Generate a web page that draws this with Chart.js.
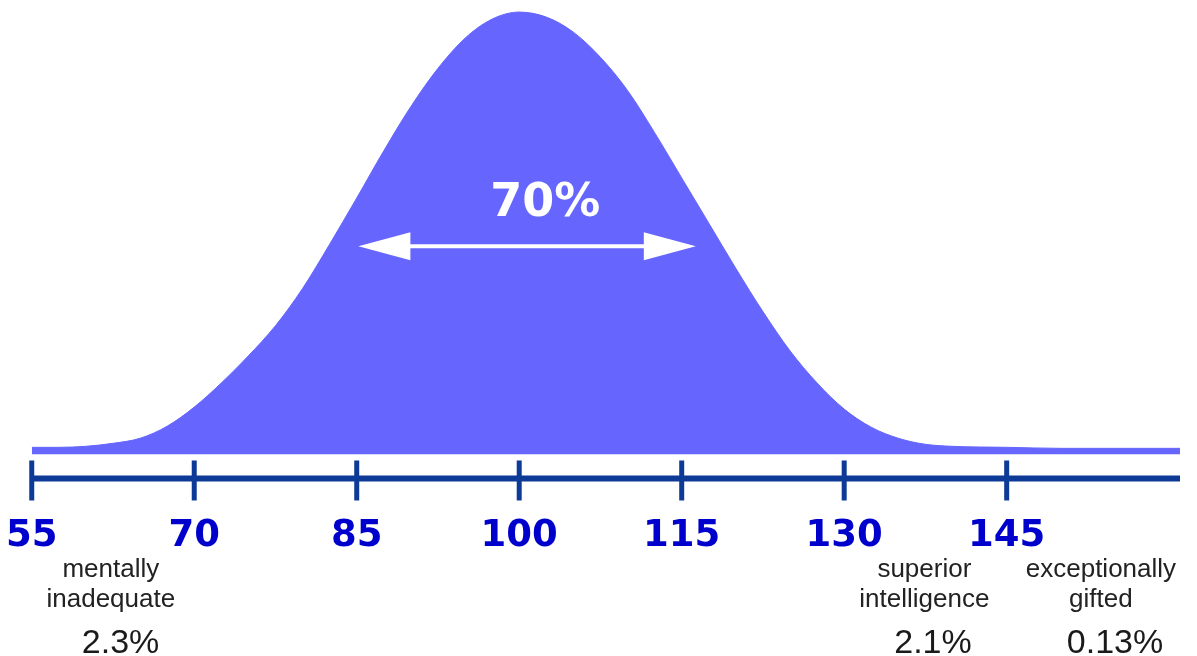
<!DOCTYPE html>
<html>
<head>
<meta charset="utf-8">
<title>IQ distribution</title>
<script src="https://cdn.jsdelivr.net/npm/chart.js@4.4.1/dist/chart.umd.min.js"></script>
<style>
    html, body { margin: 0; padding: 0; background: #fff; }
    #iqChart { display: block; }
</style>
</head>
<body>
<canvas id="iqChart" width="1197" height="656"></canvas>
<script>
// IQ score (x) and curve height
const iqScores = [55, 57.5, 60, 62.5, 65, 67.5, 70, 72.5, 75, 77.5, 80, 82.5, 85, 87.5, 90, 92.5, 95, 97.5,
    100, 102.5, 105, 107.5, 110, 112.5, 115, 117.5, 120, 122.5, 125, 127.5, 130, 132.5, 135, 137.5,
    140, 145, 150, 155, 161];
const curveHeights = [7, 7, 8, 11, 16, 28, 47, 71, 98, 128, 165, 209, 255, 302, 346, 384, 414, 433,
    440, 435, 420, 395, 362, 320, 275, 230, 185, 142, 103, 71, 45, 27, 16, 10,
    8, 7, 6, 6, 6];

const xTickValues = [55, 70, 85, 100, 115, 130, 145];

const bandNames = [['mentally', 'inadequate'], ['superior', 'intelligence'], ['exceptionally', 'gifted']];
const bandShares = ['2.3%', '2.1%', '0.13%'];
const middleShare = '70%';

// where the notes sit, in IQ units
const bandNameAt = [62.3, 137.4, 153.7];
const bandShareAt = [63.2, 138.2, 155];
const arrowFrom = 85.15, arrowTo = 116.3, arrowLevel = 207;
const middleAt = 102.4, middleLevel = 249;
const axisLevel = -24;

const FILL = '#6666ff';
const AXIS = '#0d3a96';

const overlay = {
    id: 'overlay',
    afterDatasetsDraw(chart) {
        const ctx = chart.ctx;
        const x = chart.scales.x;
        const y = chart.scales.y;
        const area = chart.chartArea;
        ctx.save();

        // axis line with ticks crossing it
        const axisY = y.getPixelForValue(axisLevel);
        ctx.strokeStyle = AXIS;
        ctx.lineWidth = 6;
        ctx.beginPath();
        ctx.moveTo(area.left, axisY);
        ctx.lineTo(area.right, axisY);
        ctx.stroke();
        ctx.lineWidth = 5;
        xTickValues.forEach(v => {
            const px = x.getPixelForValue(v);
            ctx.beginPath();
            ctx.moveTo(px, axisY - 18);
            ctx.lineTo(px, axisY + 22);
            ctx.stroke();
        });

        // 70% arrow
        const ay = y.getPixelForValue(arrowLevel);
        const ax1 = x.getPixelForValue(arrowFrom);
        const ax2 = x.getPixelForValue(arrowTo);
        ctx.strokeStyle = '#fff';
        ctx.fillStyle = '#fff';
        ctx.lineWidth = 4;
        ctx.beginPath();
        ctx.moveTo(ax1 + 40, ay);
        ctx.lineTo(ax2 - 40, ay);
        ctx.stroke();
        ctx.beginPath();
        ctx.moveTo(ax1, ay);
        ctx.lineTo(ax1 + 52, ay - 14);
        ctx.lineTo(ax1 + 52, ay + 14);
        ctx.closePath();
        ctx.fill();
        ctx.beginPath();
        ctx.moveTo(ax2, ay);
        ctx.lineTo(ax2 - 52, ay - 14);
        ctx.lineTo(ax2 - 52, ay + 14);
        ctx.closePath();
        ctx.fill();

        ctx.textAlign = 'center';
        ctx.textBaseline = 'middle';
        ctx.font = 'bold 46px "DejaVu Sans"';
        ctx.fillText(middleShare, x.getPixelForValue(middleAt), y.getPixelForValue(middleLevel));

        // notes under the axis
        ctx.fillStyle = '#222';
        ctx.font = '26px "Liberation Sans", Arial, sans-serif';
        bandNames.forEach((lines, i) => {
            const px = x.getPixelForValue(bandNameAt[i]);
            lines.forEach((t, j) => ctx.fillText(t, px, area.bottom + 69 + j * 30));
        });
        ctx.fillStyle = '#1a1a1a';
        ctx.font = '34px "Liberation Sans", Arial, sans-serif';
        bandShares.forEach((t, i) => {
            ctx.fillText(t, x.getPixelForValue(bandShareAt[i]), area.bottom + 143);
        });
        ctx.restore();
    }
};

new Chart(document.getElementById('iqChart'), {
    type: 'line',
    data: {
        datasets: [{
            data: iqScores.map((v, i) => ({ x: v, y: curveHeights[i] })),
            borderColor: FILL,
            borderWidth: 1,
            backgroundColor: FILL,
            fill: { value: 0 },
            pointRadius: 0,
            cubicInterpolationMode: 'monotone'
        }]
    },
    options: {
        responsive: false,
        animation: false,
        layout: { padding: { left: 28, right: 17, top: 0, bottom: 91 } },
        plugins: {
            legend: { display: false },
            tooltip: { enabled: false }
        },
        scales: {
            x: {
                type: 'linear',
                min: 55,
                max: 161,
                afterBuildTicks: scale => {
                    scale.ticks = xTickValues.map(v => ({ value: v }));
                },
                grid: { display: false },
                border: { display: false },
                ticks: {
                    padding: 6,
                    maxRotation: 0,
                    autoSkip: false,
                    color: '#0000cc',
                    font: { family: 'DejaVu Sans', weight: 'bold', size: 37 }
                }
            },
            y: {
                display: false,
                min: -46,
                max: 452
            }
        }
    },
    plugins: [overlay]
});
</script>
</body>
</html>
